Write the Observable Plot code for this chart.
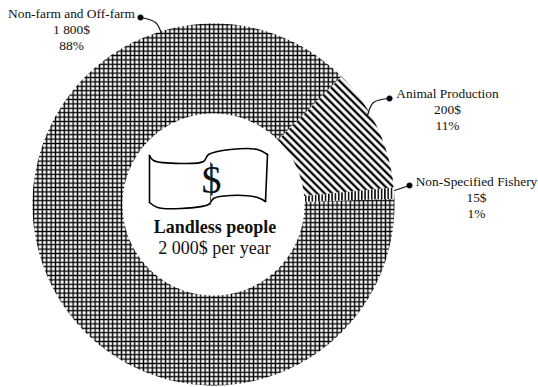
<!DOCTYPE html>
<html><head><meta charset="utf-8">
<style>html,body{margin:0;padding:0;background:#fff}svg{display:block}</style>
<script src="https://cdn.jsdelivr.net/npm/d3@7"></script>
<script src="https://cdn.jsdelivr.net/npm/@observablehq/plot@0.6"></script>
</head><body>
<svg width="0" height="0" style="position:absolute">
<defs>
<pattern id="cross" patternUnits="userSpaceOnUse" width="4.4" height="4.4">
<rect width="4.4" height="4.4" fill="#fff"/>
<path d="M0 2.2H4.4M2.2 0V4.4" stroke="#000" stroke-width="1.4"/>
</pattern>
<pattern id="diag" patternUnits="userSpaceOnUse" width="5.3" height="5.3" patternTransform="rotate(45)">
<rect width="5.3" height="5.3" fill="#fff"/>
<path d="M0 2.6H5.3" stroke="#000" stroke-width="2.3"/>
</pattern>
<pattern id="vert" patternUnits="userSpaceOnUse" width="3.3" height="3.3">
<rect width="3.3" height="3.3" fill="#fff"/>
<path d="M1.6 0V3.3" stroke="#000" stroke-width="1.5"/>
</pattern>
</defs>
</svg>
<script>
const categories = ["Non-farm and Off-farm", "Animal Production", "Non-Specified Fishery"];
const amounts = ["1 800$", "200$", "15$"];
const shares = [88, 11, 1];
const patterns = ["url(#cross)", "url(#diag)", "url(#vert)"];
const labelX = [71, 447, 476];
const labelY = [13, 93, 181];
const leaderX = [[140, 155, 161], [389, 373, 367], [409, 394]];
const leaderY = [[17, 22, 33], [98, 102, 115], [185, 190]];
const noteSides = [
  [[149, 155], [153, 160], [180, 163], [203, 161], [208, 154], [230, 149], [257, 149], [267, 154]],
  [[267, 154], [265, 201]],
  [[265, 201], [257, 197], [230, 195], [213, 198], [208, 204], [180, 208], [157, 207], [149, 202]],
  [[149, 202], [149, 155]]
];
const cx = 213, cy = 204, outerR = 181, innerR = 91, startDeg = 45;

// Ring slices built from the shares
let cum = startDeg - shares[0] * 3.6;
const slicePts = [];
shares.forEach((s, i) => {
  const a0 = cum, a1 = cum + s * 3.6; cum = a1;
  const n = Math.max(4, Math.ceil((a1 - a0) / 1.5));
  const ring = [];
  for (let k = 0; k <= n; k++) { const a = (a0 + (a1 - a0) * k / n) * Math.PI / 180; ring.push({i, x: cx + outerR * Math.sin(a), y: cy - outerR * Math.cos(a)}); }
  for (let k = n; k >= 0; k--) { const a = (a0 + (a1 - a0) * k / n) * Math.PI / 180; ring.push({i, x: cx + innerR * Math.sin(a), y: cy - innerR * Math.cos(a)}); }
  slicePts.push(ring);
});

const serif = "Liberation Serif";
const labelRows = categories.flatMap((c, i) => [c, amounts[i], shares[i] + "%"].map((t, j) => ({t, x: labelX[i], y: labelY[i] + j * 16})));
const leaders = leaderX.flatMap((xs, i) => xs.map((x, j) => ({i, x, y: leaderY[i][j]})));
const ends = leaderX.map((xs, i) => ({x: xs[0], y: leaderY[i][0]}));
const note = noteSides.flatMap((pts, i) => pts.map(([x, y]) => ({i, x, y})));

const plot = Plot.plot({
  width: 538, height: 387, margin: 0,
  x: {domain: [0, 538], range: [0, 538], axis: null},
  y: {domain: [0, 387], range: [0, 387], axis: null},
  style: {background: "#fff"},
  marks: [
    slicePts.map((ring, i) => Plot.line(ring, {x: "x", y: "y", fill: patterns[i], stroke: "none"})),
    Plot.line(leaders, {x: "x", y: "y", z: "i", curve: "catmull-rom", stroke: "#111", strokeWidth: 1.2}),
    Plot.dot(ends, {x: "x", y: "y", r: 2.8, fill: "#000", stroke: "#234", strokeWidth: 0.6}),
    Plot.text(labelRows, {x: "x", y: "y", text: "t", fontFamily: serif, fontSize: 13.4, fill: "#111"}),
    Plot.line(note, {x: "x", y: "y", z: "i", curve: "catmull-rom", stroke: "#000", strokeWidth: 1.6}),
    Plot.text(["$"], {x: [211], y: [180], text: d => d, fontFamily: serif, fontSize: 40, fill: "#111"}),
    Plot.ruleX([210], {y1: 162, y2: 205, stroke: "#333", strokeWidth: 0.8}),
    Plot.text(["Landless people"], {x: [214.5], y: [227], text: d => d, fontFamily: serif, fontSize: 18, fontWeight: "bold", fill: "#111"}),
    Plot.text(["2 000$ per year"], {x: [214], y: [248], text: d => d, fontFamily: serif, fontSize: 18, fill: "#111"})
  ]
});
document.body.appendChild(plot);
</script>
</body></html>
